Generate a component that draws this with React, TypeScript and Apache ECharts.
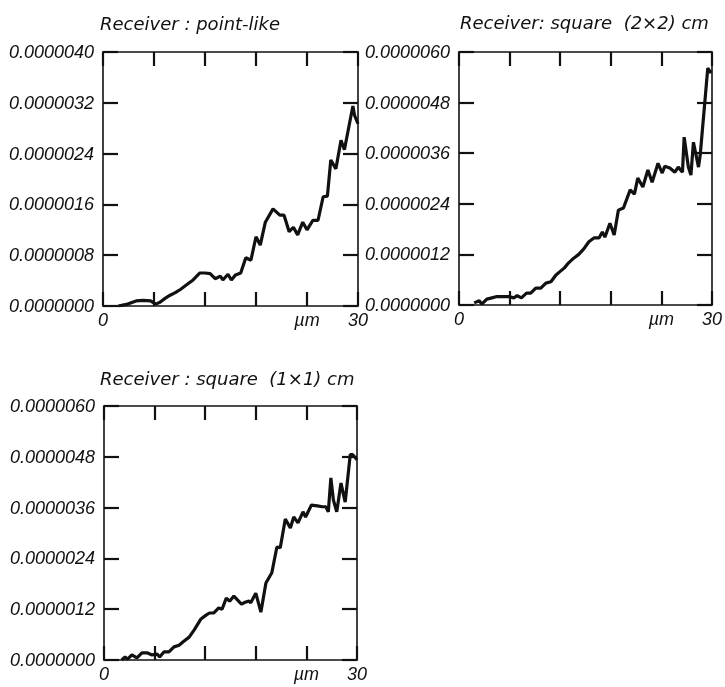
import React, { useEffect, useRef } from "react";
import * as echarts from "echarts";

// values in units of 1e-6
const UNIT = 1e-6;

const X_POINT = [1.8, 2.9, 3.9, 4.7, 5.6, 6.2, 6.7, 7.3, 7.9, 8.5, 9.1, 9.8, 10.6, 11.4, 12.0, 12.6, 13.2, 13.8, 14.1, 14.7, 15.1, 15.6, 16.2, 16.8, 17.4, 18.0, 18.5, 19.1, 20.0, 20.8, 21.3, 21.9, 22.4, 22.9, 23.5, 24.0, 24.7, 25.3, 25.9, 26.4, 26.8, 27.4, 28.0, 28.4, 29.4, 29.6, 30.0];
const Y_POINT = [0.0, 0.03, 0.08, 0.09, 0.08, 0.03, 0.06, 0.12, 0.17, 0.21, 0.26, 0.33, 0.41, 0.52, 0.52, 0.51, 0.43, 0.47, 0.41, 0.5, 0.41, 0.49, 0.52, 0.76, 0.72, 1.09, 0.96, 1.32, 1.53, 1.43, 1.43, 1.17, 1.24, 1.12, 1.32, 1.2, 1.35, 1.35, 1.72, 1.73, 2.3, 2.16, 2.61, 2.46, 3.15, 3.0, 2.87];

const X_SQ2 = [1.8, 2.4, 2.7, 3.3, 3.9, 4.5, 5.1, 5.9, 6.5, 6.9, 7.4, 8.0, 8.5, 9.1, 9.7, 10.3, 10.9, 11.5, 11.9, 12.5, 13.0, 13.6, 14.2, 14.8, 15.4, 16.0, 16.6, 17.0, 17.3, 17.9, 18.4, 18.9, 19.5, 20.3, 20.8, 21.2, 21.8, 22.4, 22.9, 23.6, 24.1, 24.4, 25.0, 25.6, 26.0, 26.5, 26.7, 27.2, 27.5, 27.8, 28.4, 28.6, 29.5, 29.9];
const Y_SQ2 = [0.05, 0.1, 0.02, 0.14, 0.17, 0.2, 0.2, 0.2, 0.17, 0.22, 0.17, 0.28, 0.28, 0.4, 0.4, 0.52, 0.55, 0.71, 0.78, 0.88, 1.0, 1.11, 1.2, 1.33, 1.5, 1.59, 1.59, 1.73, 1.61, 1.94, 1.66, 2.25, 2.3, 2.73, 2.63, 3.01, 2.8, 3.2, 2.91, 3.36, 3.13, 3.29, 3.25, 3.15, 3.27, 3.15, 3.98, 3.27, 3.08, 3.86, 3.27, 3.55, 5.62, 5.5];

const X_SQ1 = [2.1, 2.5, 2.8, 3.3, 3.9, 4.5, 5.1, 5.7, 6.3, 6.6, 7.1, 7.7, 8.3, 8.9, 9.5, 10.1, 10.7, 11.5, 12.1, 12.5, 13.0, 13.6, 14.0, 14.5, 14.9, 15.4, 16.3, 16.8, 17.2, 17.4, 18.0, 18.6, 19.2, 19.9, 20.5, 20.9, 21.5, 22.1, 22.5, 23.0, 23.6, 23.9, 24.6, 25.3, 25.9, 26.3, 26.6, 26.9, 27.2, 27.6, 28.1, 28.6, 29.2, 29.5, 30.0];
const Y_SQ1 = [0.0, 0.07, 0.02, 0.12, 0.05, 0.17, 0.17, 0.12, 0.14, 0.07, 0.19, 0.19, 0.31, 0.35, 0.45, 0.54, 0.71, 0.97, 1.06, 1.11, 1.11, 1.23, 1.2, 1.46, 1.39, 1.51, 1.32, 1.37, 1.39, 1.35, 1.58, 1.13, 1.82, 2.06, 2.67, 2.65, 3.33, 3.12, 3.38, 3.24, 3.5, 3.38, 3.66, 3.64, 3.62, 3.62, 3.5, 4.3, 3.78, 3.5, 4.18, 3.73, 4.85, 4.85, 4.73];

const TITLES = ["Receiver : point-like", "Receiver: square  (2\u00d72) cm", "Receiver : square  (1\u00d71) cm"];
const Y_MAX = [4.0, 6.0, 6.0];
const Y_STEP = [0.8, 1.2, 1.2];
const X_MAX = 30;
const X_STEP = 6;

const GRIDS = [
  { left: 103, top: 52, width: 255, height: 254 },
  { left: 459, top: 52, width: 253, height: 253 },
  { left: 104, top: 406, width: 253, height: 254 },
];
const TITLE_POS = [
  { left: 100, top: 14 },
  { left: 460, top: 13 },
  { left: 100, top: 369 },
];

export default function App() {
  const ref = useRef<HTMLDivElement>(null);
  useEffect(() => {
    if (!ref.current) return;
    const chart = echarts.init(ref.current, undefined, { renderer: "svg" });
    const C = "#111";
    const xs = [X_POINT, X_SQ2, X_SQ1];
    const ys = [Y_POINT, Y_SQ2, Y_SQ1];
    const xAxis: any[] = [];
    const yAxis: any[] = [];
    const series: any[] = [];
    GRIDS.forEach((g, i) => {
      const font: any = { fontFamily: "Liberation Sans", fontStyle: "italic", fontSize: 18, color: C };
      const mk = (pos: string, isX: boolean, label: any) => ({
        type: "value",
        gridIndex: i,
        min: 0,
        max: isX ? X_MAX : Y_MAX[i],
        interval: isX ? X_STEP : Y_STEP[i],
        position: pos,
        splitLine: { show: false },
        axisLine: { show: true, onZero: false, lineStyle: { color: C, width: 1.6 } },
        axisTick: { show: true, inside: true, length: isX ? 14 : 15, lineStyle: { color: C, width: 2.2 } },
        axisLabel: label,
      });
      const raised = i !== 2;
      const xLabel: any = {
        ...font,
        margin: 5,
        formatter: (v: number) =>
          v === 0 ? "0" : v === 30 ? (raised ? "{hi|30}" : "30") : v === 24 ? "\u00b5m" : " ",
      };
      if (raised) xLabel.rich = { hi: { ...font, padding: [0, 0, 12, 0] } };
      xAxis.push(mk("bottom", true, xLabel));
      xAxis.push(mk("top", true, { show: false }));
      yAxis.push(
        mk("left", false, {
          ...font,
          margin: 9,
          formatter: (v: number) => (v * UNIT).toFixed(7),
        })
      );
      yAxis.push(mk("right", false, { show: false }));
      series.push({
        type: "line",
        xAxisIndex: i * 2,
        yAxisIndex: i * 2,
        data: xs[i].map((x, k) => [x, ys[i][k]]),
        symbol: "none",
        lineStyle: { color: C, width: 3.2 },
      });
    });
    chart.setOption({
      animation: false,
      title: TITLES.map((t, i) => ({
        text: t,
        left: TITLE_POS[i].left,
        top: TITLE_POS[i].top,
        padding: 0,
        textStyle: {
          fontFamily: "DejaVu Sans",
          fontStyle: "italic",
          fontWeight: "normal",
          fontSize: 18,
          color: C,
        },
      })),
      grid: GRIDS,
      xAxis,
      yAxis,
      series,
    });
    return () => chart.dispose();
  }, []);
  return <div ref={ref} style={{ position: "fixed", left: 0, top: 0, width: 725, height: 687 }} />;
}
